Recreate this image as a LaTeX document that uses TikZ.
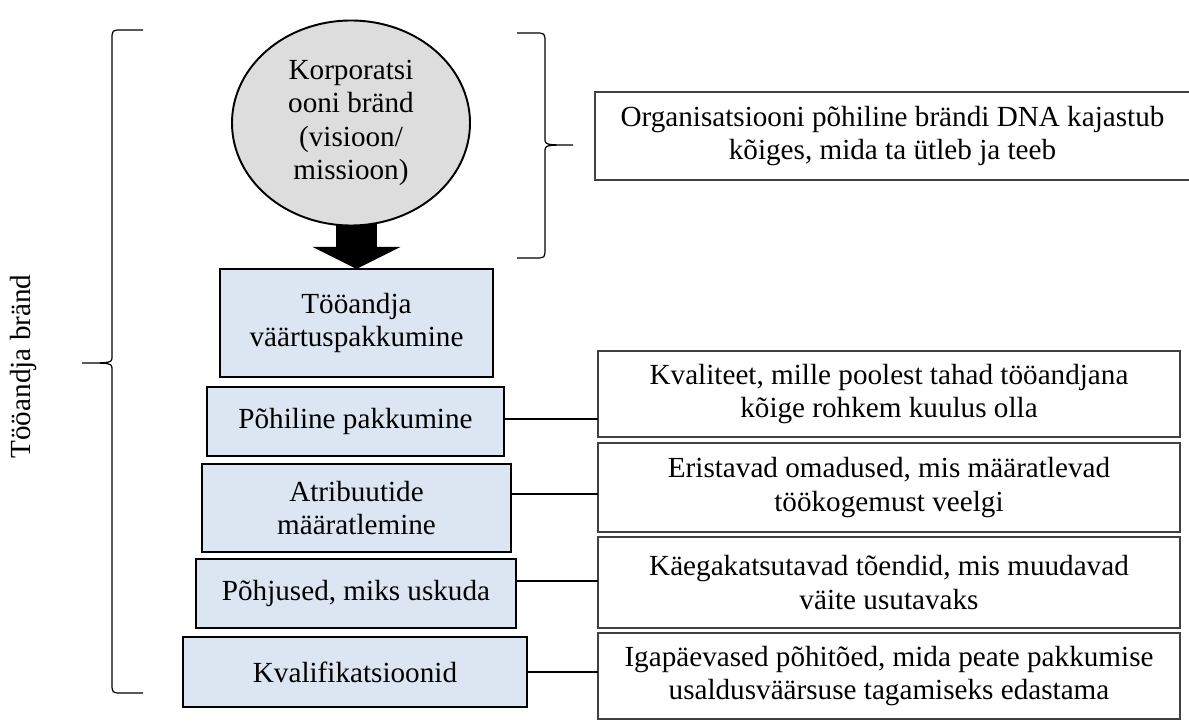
\documentclass[tikz,border=0pt]{standalone}
\usepackage{fontspec}
\setmainfont{Liberation Serif}
\usetikzlibrary{arrows.meta, positioning, shapes.geometric, backgrounds}
\definecolor{helesinine}{HTML}{DCE6F2}
\definecolor{helehall}{HTML}{DDDDDD}
\definecolor{tumehall}{HTML}{404040}

\begin{document}
\begin{tikzpicture}[>=Stealth, font=\fontsize{16.6}{19.1}\selectfont,
  kast/.style={draw, line width=1.4pt, fill=helesinine, align=center, inner sep=2pt, outer sep=0pt},
  selgitus/.style={draw=tumehall, line width=0.8pt, align=center, inner sep=2pt, outer sep=0pt, minimum width=11.64cm},
  yhendus/.style={line width=0.75pt},
  klamber/.style={line width=0.7pt}]
  \useasboundingbox (0,0) rectangle (23.78,14.4);

  % Ring
  \node[ellipse, draw, line width=1.1pt, fill=helehall, minimum width=4.76cm, minimum height=4.10cm, inner sep=0pt, align=center] (ring) at (7.02,11.94) {Korporatsi\\ooni bränd\\(visioon/\\missioon)};

  % Tööandja kastid
  \node[kast, minimum width=5.46cm, minimum height=2.16cm] (vaartus) at (7.13,7.94) {Tööandja\\väärtuspakkumine};
  \node[kast, minimum width=5.94cm, minimum height=1.38cm] (pohi) at (7.11,5.97) {Põhiline pakkumine};
  \node[kast, minimum width=6.18cm, minimum height=1.76cm] (atrib) at (7.13,4.24) {Atribuutide\\määratlemine};
  \node[kast, minimum width=6.40cm, minimum height=1.38cm] (pohjus) at (7.12,2.53) {Põhjused, miks uskuda};
  \node[kast, minimum width=6.88cm, minimum height=1.40cm] (kval) at (7.10,0.96) {Kvalifikatsioonid};

  % Nool
  \begin{scope}[on background layer]
    \draw[line width=0.82cm, -{Triangle[width=1.76cm, length=0.44cm, line width=0pt]}] (ring.center -| vaartus.north) -- (vaartus.north);
  \end{scope}

  % Selgitused
  \node[selgitus, minimum width=11.9cm, minimum height=1.76cm] (dna) at (17.85,11.68) {Organisatsiooni põhiline brändi DNA kajastub\\kõiges, mida ta ütleb ja teeb};
  \node[selgitus, minimum height=1.72cm] (kvaliteet) at (17.78,6.52) {Kvaliteet, mille poolest tahad tööandjana\\kõige rohkem kuulus olla};
  \node[selgitus, minimum height=1.78cm] (eristavad) at (17.78,4.65) {Eristavad omadused, mis määratlevad\\töökogemust veelgi};
  \node[selgitus, minimum height=1.82cm] (toendid) at (17.78,2.75) {Käegakatsutavad tõendid, mis muudavad\\väite usutavaks};
  \node[selgitus, minimum height=1.72cm] (igapaev) at (17.78,0.88) {Igapäevased põhitõed, mida peate pakkumise\\usaldusväärsuse tagamiseks edastama};

  % Ühendused
  \draw[yhendus] ([yshift=0.05cm]pohi.east) -- ([yshift=0.05cm]pohi.east -| kvaliteet.west);
  \draw[yhendus] ([yshift=0.28cm]atrib.east) -- ([yshift=0.28cm]atrib.east -| eristavad.west);
  \draw[yhendus] ([yshift=0.25cm]pohjus.east) -- ([yshift=0.25cm]pohjus.east -| toendid.west);
  \draw[yhendus] (kval.east) -- (kval.east -| igapaev.west);

  % Klambrid
  \draw[klamber] (2.86,13.8) -- (2.44,13.8) .. controls (2.24,13.8) .. (2.24,13.6) -- (2.24,7.28) .. controls (2.24,7.14) .. (1.64,7.14) .. controls (2.24,7.14) .. (2.24,7.0) -- (2.24,0.74) .. controls (2.24,0.54) .. (2.44,0.54) -- (2.86,0.54);
  \draw[klamber] (10.34,13.74) -- (10.7,13.74) .. controls (10.9,13.74) .. (10.9,13.54) -- (10.9,11.64) .. controls (10.9,11.5) .. (11.46,11.5) .. controls (10.9,11.5) .. (10.9,11.36) -- (10.9,9.44) .. controls (10.9,9.24) .. (10.7,9.24) -- (10.34,9.24);

  \node[rotate=90] (brand) at (0.46,7.07) {Tööandja bränd};
\end{tikzpicture}
\end{document}
